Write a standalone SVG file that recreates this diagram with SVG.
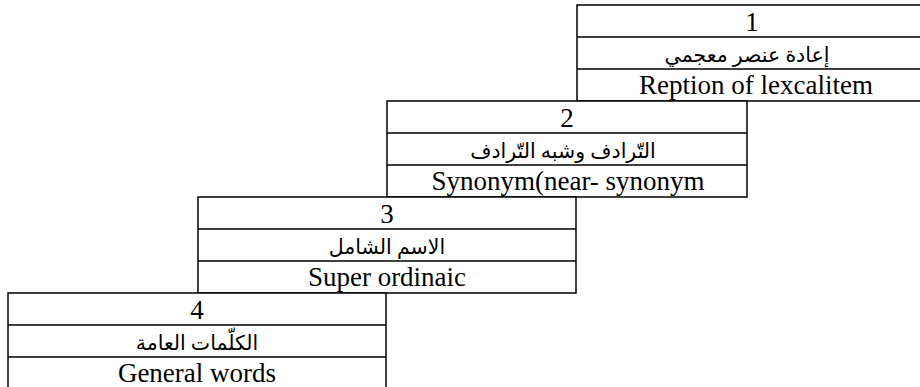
<svg xmlns="http://www.w3.org/2000/svg" width="920" height="387" viewBox="0 0 920 387">
  <style>
    .cell { fill: #ffffff; stroke: #000000; stroke-width: 1.5; }
    .rule { stroke: #000000; stroke-width: 1.5; }
    .en { font-family: "Liberation Serif", "Times New Roman", serif; font-size: 27px; fill: #000000; text-anchor: middle; }
    .ar { font-family: "Liberation Serif", "DejaVu Sans", sans-serif; font-size: 20.5px; fill: #000000; text-anchor: middle; }
  </style>

  <!-- Step 1 (top right) -->
  <g id="step1">
    <rect class="cell" x="577" y="5" width="346" height="96"/>
    <line class="rule" x1="577" y1="37" x2="920" y2="37"/>
    <line class="rule" x1="577" y1="69" x2="920" y2="69"/>
    <text class="en" x="752" y="31">1</text>
    <text class="ar" x="747" y="62" direction="rtl">إعادة عنصر معجمي</text>
    <text class="en" x="756" y="94">Reption of lexcalitem</text>
  </g>

  <!-- Step 2 -->
  <g id="step2">
    <rect class="cell" x="387" y="101" width="360" height="96"/>
    <line class="rule" x1="387" y1="133" x2="747" y2="133"/>
    <line class="rule" x1="387" y1="165" x2="747" y2="165"/>
    <text class="en" x="567" y="127">2</text>
    <text class="ar" x="563" y="158" direction="rtl">التّرادف وشبه التّرادف</text>
    <text class="en" x="568" y="190">Synonym(near- synonym</text>
  </g>

  <!-- Step 3 -->
  <g id="step3">
    <rect class="cell" x="198" y="197" width="378" height="96"/>
    <line class="rule" x1="198" y1="229" x2="576" y2="229"/>
    <line class="rule" x1="198" y1="261" x2="576" y2="261"/>
    <text class="en" x="387" y="223">3</text>
    <text class="ar" x="387" y="254" direction="rtl">الاسم الشامل</text>
    <text class="en" x="387" y="286">Super ordinaic</text>
  </g>

  <!-- Step 4 (bottom left) -->
  <g id="step4">
    <rect class="cell" x="8" y="293" width="378" height="100"/>
    <line class="rule" x1="8" y1="325" x2="386" y2="325"/>
    <line class="rule" x1="8" y1="357" x2="386" y2="357"/>
    <text class="en" x="197" y="319">4</text>
    <text class="ar" x="197" y="350" direction="rtl">الكلّمات العامة</text>
    <text class="en" x="197" y="382">General words</text>
  </g>
</svg>
